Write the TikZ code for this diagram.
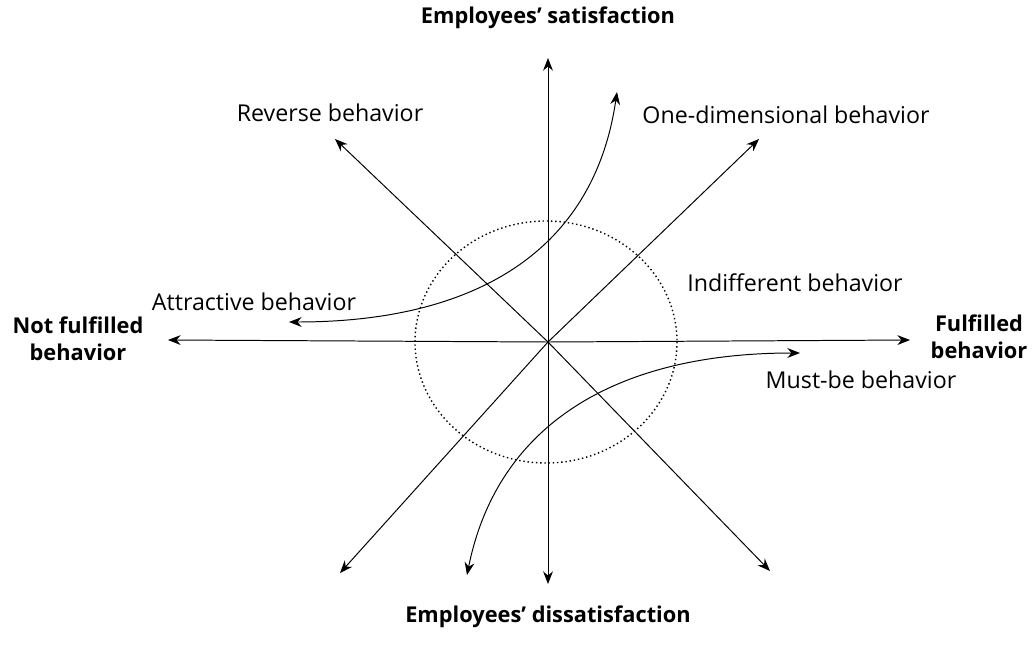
\documentclass[tikz,border=0pt]{standalone}
\usepackage{fontspec}
\setmainfont{Open Sans}
\usetikzlibrary{arrows.meta}

\tikzset{
    axis/.style={line width=0.7pt, -{Stealth[length=9pt,width=7pt]}},
    curvearrow/.style={line width=0.7pt, {Stealth[length=9pt,width=7pt]}-{Stealth[length=9pt,width=7pt]}},
    lbl/.style={font=\fontsize{16.5}{19}\selectfont},
    blbl/.style={font=\bfseries\fontsize{15.5}{19.5}\selectfont, align=center}
}

\begin{document}
\begin{tikzpicture}[x=0.025cm, y=-0.025cm]
            \useasboundingbox (0,0) rectangle (1032,666);

            % centre and axis ends
            \coordinate (o) at (548,342);
            \coordinate (top) at (548,58);
            \coordinate (bottom) at (548,584);
            \coordinate (left) at (168,340);
            \coordinate (right) at (910,340);
            \coordinate (nw) at (335,139);
            \coordinate (ne) at (759,139);
            \coordinate (sw) at (340,573);
            \coordinate (se) at (770,571);

            \draw[axis] (o) -- (top);
            \draw[axis] (o) -- (bottom);
            \draw[axis] (o) -- (left);
            \draw[axis] (o) -- (right);
            \draw[axis] (o) -- (nw);
            \draw[axis] (o) -- (ne);
            \draw[axis] (o) -- (sw);
            \draw[axis] (o) -- (se);

            \draw[dotted, line width=1pt] (546,342) ellipse (131 and 121);

            % curved arrows
            \coordinate (att) at (289,322);
            \coordinate (attup) at (617,92);
            \coordinate (must) at (800,353);
            \coordinate (mustdn) at (467,575);
            \draw[curvearrow] (att) .. controls (477,322) and (594,250) .. (attup);
            \draw[curvearrow] (must) .. controls (614,353) and (497,426) .. (mustdn);

            \node[blbl] (sat) at (548,18) {Employees’ satisfaction};
            \node[blbl] (dis) at (548,617) {Employees’ dissatisfaction};
            \node[blbl] (nf) at (78,339) {Not fulfilled\\behavior};
            \node[blbl] (ff) at (979,337) {Fulfilled\\behavior};

            \node[lbl] (rev) at (330,113) {Reverse behavior};
            \node[lbl] (one) at (786,115) {One-dimensional behavior};
            \node[lbl] (attl) at (254,302) {Attractive behavior};
            \node[lbl] (ind) at (795,283) {Indifferent behavior};
            \node[lbl] (mb) at (861,380) {Must-be behavior};
        \end{tikzpicture}
\end{document}
